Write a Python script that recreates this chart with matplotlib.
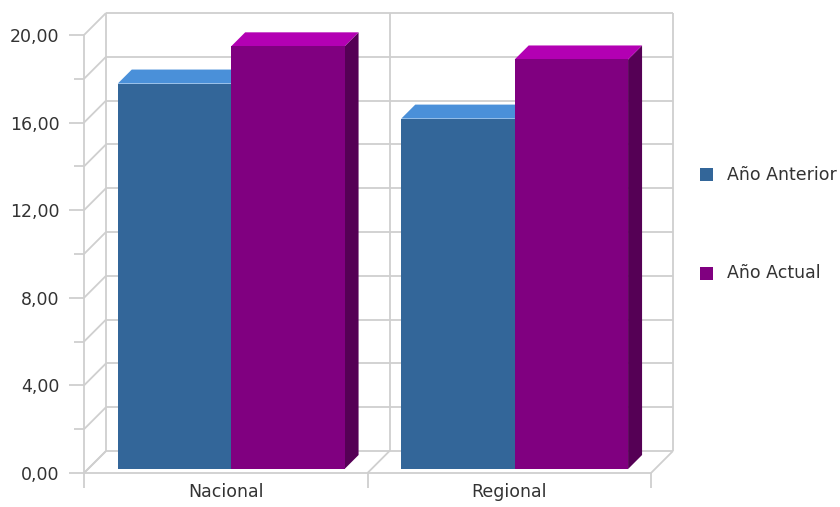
import matplotlib
matplotlib.use("Agg")
import matplotlib.pyplot as plt
from matplotlib.patches import Polygon, Rectangle
from matplotlib.ticker import FuncFormatter, MultipleLocator, FixedLocator, NullFormatter

plt.rcParams["font.family"] = ["DejaVu Sans"]

# Data
categories = ["Nacional", "Regional"]
series_names = ["Año Anterior", "Año Actual"]
anterior = [17.6, 16.0]
actual = [19.3, 18.7]
series_values = [anterior, actual]
colors_front = ["#336699", "#800080"]
colors_top = ["#4a90d9", "#b300b3"]
colors_side = ["#234a70", "#550055"]

W, H = 840, 507
fig = plt.figure(figsize=(W / 100, H / 100), dpi=100)
ax_l, ax_r, ax_b, ax_t = 84, 651, 473, 35  # front plane in pixels
ax = fig.add_axes([ax_l / W, 1 - ax_b / H, (ax_r - ax_l) / W, (ax_b - ax_t) / H])
ymax = 20
ax.set_xlim(0, len(categories))
ax.set_ylim(0, ymax)

# pixel -> data conversion for the fake depth
px_x = len(categories) / (ax_r - ax_l)
px_y = ymax / (ax_b - ax_t)
depth = 22
grid = "#cfcfcf"
lw = 1.3
fs = 12.5


def off(x, y, z):
    return (x + z * px_x, y + z * px_y)


def line(p0, p1):
    ax.plot([p0[0], p1[0]], [p0[1], p1[1]], color=grid, lw=lw, clip_on=False,
            zorder=0, solid_capstyle="butt")


# back wall, left wall and floor grid
for v in range(0, ymax + 1, 2):
    line(off(0, v, depth), off(len(categories), v, depth))
    line(off(0, v, 0), off(0, v, depth))
for x in range(len(categories) + 1):
    line(off(x, 0, depth), off(x, ymax, depth))
    line(off(x, 0, 0), off(x, 0, depth))

# bars
bar_w = 0.4
z0, z1 = 4, 18
for i in range(len(categories)):
    for j, vals in enumerate(series_values):
        x0 = i + 0.105 + j * bar_w
        x1 = x0 + bar_w
        v = vals[i]
        front = [off(x0, 0, z0), off(x1, 0, z0), off(x1, v, z0), off(x0, v, z0)]
        top = [off(x0, v, z0), off(x1, v, z0), off(x1, v, z1), off(x0, v, z1)]
        side = [off(x1, 0, z0), off(x1, v, z0), off(x1, v, z1), off(x1, 0, z1)]
        for pts, c in [(side, colors_side[j]), (top, colors_top[j]), (front, colors_front[j])]:
            ax.add_patch(Polygon(pts, closed=True, facecolor=c, edgecolor="none",
                                 clip_on=False, zorder=2 + i * 2 + j))

# axes styling
for s in ["top", "right"]:
    ax.spines[s].set_visible(False)
for s in ["left", "bottom"]:
    ax.spines[s].set_color(grid)
    ax.spines[s].set_linewidth(lw)

ax.yaxis.set_major_locator(MultipleLocator(4))
ax.yaxis.set_minor_locator(MultipleLocator(2))
ax.yaxis.set_major_formatter(FuncFormatter(lambda v, p: f"{v:.2f}".replace(".", ",")))
ax.tick_params(axis="y", which="major", length=11, width=lw, color=grid,
               labelsize=fs, labelcolor="#333333", pad=6.5)
ax.tick_params(axis="y", which="minor", length=7, width=lw, color=grid)

ax.xaxis.set_major_locator(FixedLocator(range(len(categories) + 1)))
ax.xaxis.set_major_formatter(NullFormatter())
ax.xaxis.set_minor_locator(FixedLocator([i + 0.5 for i in range(len(categories))]))
ax.set_xticklabels(categories, minor=True)
ax.tick_params(axis="x", which="major", length=11, width=lw, color=grid)
ax.tick_params(axis="x", which="minor", length=0, labelsize=fs,
               labelcolor="#333333", pad=7)
ax.patch.set_visible(False)

# legend
leg_y = [175, 273]
for j, name in enumerate(series_names):
    fig.add_artist(Rectangle((700 / W, 1 - (leg_y[j] + 6.5) / H), 13 / W, 13 / H,
                             transform=fig.transFigure, facecolor=colors_front[j],
                             edgecolor="none"))
    fig.text(727 / W, 1 - leg_y[j] / H, name, fontsize=fs, color="#333333",
             va="center", ha="left")

fig.savefig("out.png", dpi=100, facecolor="white")
